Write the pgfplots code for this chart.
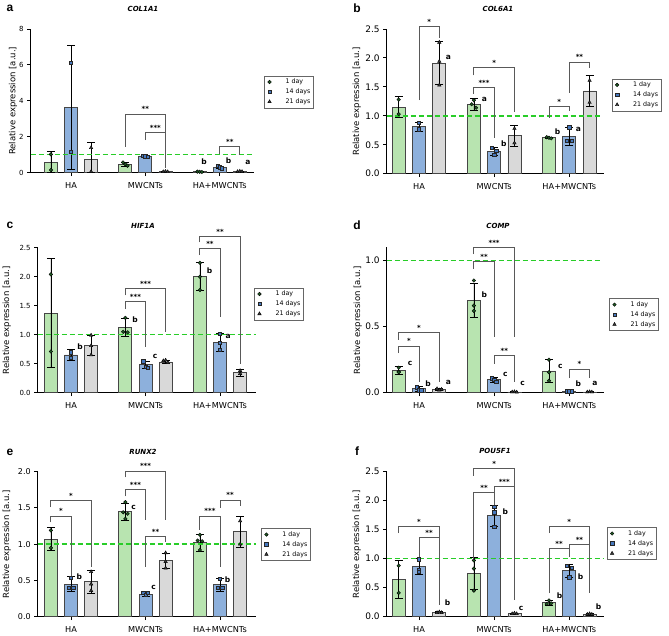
\documentclass[border=0pt]{standalone}
\usepackage{pgfplots}
\pgfplotsset{compat=1.18}
\usepackage{fontspec}
\setmainfont{DejaVu Sans}
\newfontfamily\arialf{Liberation Sans}
\usetikzlibrary{calc}
\definecolor{barG}{RGB}{184,228,176}
\definecolor{barB}{RGB}{141,176,220}
\definecolor{barY}{RGB}{217,217,217}
\definecolor{edgeC}{RGB}{70,70,70}
\definecolor{dashG}{RGB}{40,205,40}
\definecolor{mG}{RGB}{30,90,35}
\definecolor{mB}{RGB}{70,120,190}
\definecolor{mY}{RGB}{60,60,60}
\tikzset{
 brk/.style={draw=black!65, line width=0.8pt},
 sig/.style={font=\bfseries\fontsize{7}{8}\selectfont, inner sep=0pt, anchor=base, yshift=2pt},
 lt/.style={font=\bfseries\fontsize{7.5}{8}\selectfont, inner sep=0pt},
 gl/.style={draw=dashG, line width=1.4pt, dash pattern=on 5pt off 3pt},
}
\newcommand{\brk}[6]{\draw[brk] (axis cs:#1,#2) -- (axis cs:#1,#5) -- (axis cs:#3,#5) -- (axis cs:#3,#4);
 \node[sig] at ($(axis cs:#1,#5)!0.5!(axis cs:#3,#5)$) {#6};}
\newcommand{\lt}[3]{\node[lt] at (axis cs:#1,#2) {#3};}
\pgfplotsset{
 panel/.style={scale only axis, clip mode=individual,
  axis x line*=bottom, axis y line*=left,
  axis line style={line width=1pt,black},
  tick align=outside, major tick length=3.5pt,
  tick style={black,line width=0.9pt},
  xtick={0,1,2}, xticklabels={HA,MWCNTs,HA+MWCNTs}, ymin=0,
  x tick label style={font=\fontsize{8.2}{9}\selectfont, yshift=-3pt},
  ylabel={Relative expression [a.u.]},
  ylabel style={font=\fontsize{8.5}{10}\selectfont},
  /pgf/number format/assume math mode=true,
  legend cell align=left,
  legend style={draw=black!60, line width=0.5pt, anchor=north west,
    font=\fontsize{6.3}{7}\selectfont, inner xsep=2pt, inner ysep=2pt, row sep=1.8pt,
    nodes={inner sep=0.8pt, text height=5pt, text depth=1.5pt}},
  legend image code/.code={\path (0pt,-2pt) (18pt,2pt); \draw[#1] plot coordinates {(3pt,0pt)};},
 },
 onedec/.style={yticklabel style={/pgf/number format/fixed, /pgf/number format/fixed zerofill, /pgf/number format/precision=1}},
 ebar/.style={error bars/.cd, y dir=both, y explicit, error bar style={black,line width=0.7pt}, error mark options={rotate=90, mark size=4pt, black, line width=0.7pt}},
 bG/.style={ybar, bar width=13pt, bar shift=0pt, fill=barG, draw=edgeC, line width=0.8pt, forget plot, ebar},
 bB/.style={ybar, bar width=13pt, bar shift=0pt, fill=barB, draw=edgeC, line width=0.8pt, forget plot, ebar},
 bY/.style={ybar, bar width=13pt, bar shift=0pt, fill=barY, draw=edgeC, line width=0.8pt, forget plot, ebar},
 pG/.style={only marks, mark=*, mark size=1.8pt, mark options={fill=mG, draw=black, line width=0.4pt}},
 pB/.style={only marks, mark=square*, mark size=1.7pt, mark options={fill=mB, draw=black!85, line width=0.5pt}},
 pY/.style={only marks, mark=triangle*, mark size=2pt, mark options={fill=mY, draw=black, line width=0.4pt}},
}
\begin{document}
\begin{tikzpicture}
\path[use as bounding box] (0,0) rectangle (669pt,636pt);
% panel letters and titles
\node[font=\arialf\bfseries\fontsize{12}{12}\selectfont] at (10pt,628pt) {a};
\node[font=\arialf\bfseries\fontsize{12}{12}\selectfont] at (357pt,628pt) {b};
\node[font=\arialf\bfseries\fontsize{12}{12}\selectfont] at (10pt,411pt) {c};
\node[font=\arialf\bfseries\fontsize{12}{12}\selectfont] at (357pt,411pt) {d};
\node[font=\arialf\bfseries\fontsize{12}{12}\selectfont] at (10pt,184pt) {e};
\node[font=\arialf\bfseries\fontsize{12}{12}\selectfont] at (357pt,185pt) {f};
\node[font=\bfseries\itshape\fontsize{7}{8}\selectfont] at (143pt,627pt) {COL1A1};
\node[font=\bfseries\itshape\fontsize{7}{8}\selectfont] at (498pt,627pt) {COL6A1};
\node[font=\bfseries\itshape\fontsize{7}{8}\selectfont] at (143pt,410pt) {HIF1A};
\node[font=\bfseries\itshape\fontsize{7}{8}\selectfont] at (498pt,410pt) {COMP};
\node[font=\bfseries\itshape\fontsize{7}{8}\selectfont] at (143pt,184pt) {RUNX2};
\node[font=\bfseries\itshape\fontsize{7}{8}\selectfont] at (495pt,185pt) {POU5F1};

% ---------------- a: COL1A1
\begin{axis}[panel, at={(30.7pt,463.3pt)}, anchor=south west, width=223.3pt, height=143.7pt,
 xmin=-0.542, xmax=2.461, ymax=8, ytick={0,2,4,6,8},
 y tick label style={font=\fontsize{7}{8}\selectfont},
 ylabel style={at={(axis description cs:-0.079,0.5)}, anchor=center},
 legend style={at={(1.045,0.675)}}]
\addplot[bG] coordinates {(-0.27,0.58) += (0,0.6) -= (0,0.58) (0.73,0.48) +- (0,0.1) (1.73,0.05) +- (0,0.02)};
\addplot[bB] coordinates {(0,3.64) +- (0,3.46) (1,0.93) +- (0,0.05) (2,0.30) +- (0,0.08)};
\addplot[bY] coordinates {(0.27,0.74) += (0,0.93) -= (0,0.74) (1.27,0.06) +- (0,0.02) (2.27,0.07) +- (0,0.02)};
\draw[gl] (axis cs:-0.542,1) -- (axis cs:2.461,1);
\addplot[pG] coordinates {(-0.27,1.02) (-0.27,0.15) (0.70,0.57) (0.73,0.47) (0.76,0.39) (1.70,0.06) (1.73,0.05) (1.76,0.04)};
\addplot[pB] coordinates {(0,6.12) (0,1.17) (0.97,0.95) (1,0.92) (1.03,0.90) (1.97,0.38) (2,0.30) (2.03,0.25)};
\addplot[pY] coordinates {(0.27,1.39) (0.27,0.06) (1.24,0.05) (1.27,0.07) (1.30,0.05) (2.24,0.06) (2.27,0.08) (2.30,0.06)};
\legend{1 day,14 days,21 days}
\brk{0.73}{1.45}{1.27}{0.24}{3.27}{**}
\brk{1}{1.82}{1.27}{1.08}{2.23}{***}
\brk{2}{1.04}{2.27}{0.98}{1.45}{**}
\lt{1.79}{0.6}{b}\lt{2.12}{0.65}{b}\lt{2.38}{0.56}{a}
\end{axis}

% ---------------- b: COL6A1
\begin{axis}[panel, onedec, at={(386.7pt,462.3pt)}, anchor=south west, width=217.3pt, height=144.7pt,
 xmin=-0.43, xmax=2.462, ymax=2.5, ytick={0,0.5,1,1.5,2,2.5},
 y tick label style={font=\fontsize{9}{10}\selectfont},
 ylabel style={at={(axis description cs:-0.138,0.5)}, anchor=center},
 legend style={at={(1.035,0.657)}}]
\addplot[bG] coordinates {(-0.27,1.15) +- (0,0.18) (0.73,1.20) +- (0,0.10) (1.73,0.62) +- (0,0.01)};
\addplot[bB] coordinates {(0,0.81) +- (0,0.08) (1,0.38) +- (0,0.07) (2,0.645) +- (0,0.16)};
\addplot[bY] coordinates {(0.27,1.91) +- (0,0.37) (1.27,0.66) +- (0,0.18) (2.27,1.43) +- (0,0.27)};
\draw[gl] (axis cs:-0.43,1) -- (axis cs:2.41,1);
\addplot[pG] coordinates {(-0.27,1.28) (-0.27,1.03) (0.73,1.27) (0.70,1.20) (0.76,1.14) (1.70,0.63) (1.73,0.62) (1.76,0.61)};
\addplot[pB] coordinates {(0,0.88) (0,0.77) (0.97,0.45) (1.03,0.40) (1,0.33) (2,0.80) (1.97,0.57) (2.03,0.57)};
\addplot[pY] coordinates {(0.27,2.27) (0.27,1.94) (0.27,1.53) (1.27,0.78) (1.27,0.53) (2.27,1.61) (2.27,1.23)};
\legend{1 day,14 days,21 days}
\brk{0}{1.27}{0.27}{2.35}{2.55}{*}
\brk{0.73}{1.70}{1.27}{1.07}{1.84}{*}
\brk{0.73}{1.38}{1}{0.61}{1.49}{***}
\brk{1.73}{0.97}{2}{1.08}{1.16}{*}
\brk{2}{1.40}{2.27}{1.82}{1.93}{**}
\lt{0.39}{2.0}{a}\lt{0.87}{1.28}{a}\lt{1.13}{0.51}{b}\lt{1.845}{0.73}{b}\lt{2.12}{0.77}{a}
\end{axis}

% ---------------- c: HIF1A
\begin{axis}[panel, onedec, at={(37.7pt,243.3pt)}, anchor=south west, width=218pt, height=145pt,
 xmin=-0.447, xmax=2.479, ymax=2.5, ytick={0,0.5,1,1.5,2,2.5},
 y tick label style={font=\fontsize{7}{8}\selectfont},
 ylabel style={at={(axis description cs:-0.142,0.5)}, anchor=center},
 legend style={at={(0.992,0.724)}}]
\addplot[bG] coordinates {(-0.27,1.37) +- (0,0.94) (0.73,1.13) +- (0,0.15) (1.73,2.0) +- (0,0.24)};
\addplot[bB] coordinates {(0,0.65) +- (0,0.10) (1,0.48) +- (0,0.06) (2,0.87) +- (0,0.15)};
\addplot[bY] coordinates {(0.27,0.82) +- (0,0.17) (1.27,0.53) +- (0,0.03) (2.27,0.35) +- (0,0.06)};
\draw[gl] (axis cs:-0.447,1) -- (axis cs:2.479,1);
\addplot[pG] coordinates {(-0.27,2.04) (-0.27,0.71) (0.73,1.29) (0.70,1.05) (0.76,1.04) (1.73,2.24) (1.73,2.0) (1.73,1.77)};
\addplot[pB] coordinates {(0,0.70) (0,0.60) (0.97,0.54) (1,0.45) (1.03,0.43) (2,1.02) (2,0.86) (2,0.74)};
\addplot[pY] coordinates {(0.27,0.99) (0.27,0.81) (0.27,0.65) (1.24,0.55) (1.27,0.56) (1.30,0.52) (2.27,0.38) (2.27,0.33)};
\legend{1 day,14 days,21 days}
\brk{0.73}{1.44}{1}{0.79}{1.57}{***}
\brk{0.73}{1.68}{1.27}{1.05}{1.80}{***}
\brk{1.73}{2.37}{2}{1.31}{2.48}{**}
\brk{1.73}{2.59}{2.27}{0.50}{2.70}{**}
\lt{0.12}{0.79}{b}\lt{0.86}{1.25}{b}\lt{1.13}{0.63}{c}\lt{1.86}{2.1}{b}\lt{2.11}{0.97}{a}
\end{axis}

% ---------------- d: COMP
\begin{axis}[panel, onedec, at={(386.7pt,243.3pt)}, anchor=south west, width=217.3pt, height=145.2pt,
 xmin=-0.43, xmax=2.462, ymax=1.1, ytick={0,0.5,1},
 y tick label style={font=\fontsize{9}{10}\selectfont},
 ylabel style={at={(axis description cs:-0.133,0.5)}, anchor=center},
 legend style={at={(1.023,0.650)}}]
\addplot[bG] coordinates {(-0.27,0.17) +- (0,0.03) (0.73,0.70) +- (0,0.13) (1.73,0.165) +- (0,0.085)};
\addplot[bB] coordinates {(0,0.03) +- (0,0.02) (1,0.10) +- (0,0.02) (2,0.01) +- (0,0.003)};
\addplot[bY] coordinates {(0.27,0.025) +- (0,0.008) (1.27,0.006) +- (0,0.002) (2.27,0.006) +- (0,0.002)};
\draw[gl] (axis cs:-0.43,1) -- (axis cs:2.41,1);
\addplot[pG] coordinates {(-0.27,0.19) (-0.27,0.16) (-0.27,0.155) (0.73,0.85) (0.73,0.66) (0.73,0.62) (1.73,0.25) (1.73,0.155) (1.73,0.09)};
\addplot[pB] coordinates {(-0.03,0.04) (0,0.02) (0.03,0.02) (0.97,0.11) (1,0.10) (1.03,0.085) (1.97,0.012) (2,0.01) (2.03,0.012)};
\addplot[pY] coordinates {(0.24,0.03) (0.27,0.02) (0.30,0.025) (1.24,0.005) (1.27,0.007) (1.30,0.004) (2.24,0.005) (2.27,0.007) (2.30,0.005)};
\legend{1 day,14 days,21 days}
\brk{-0.27}{0.30}{0}{0.08}{0.354}{*}
\brk{-0.27}{0.40}{0.27}{0.08}{0.455}{*}
\brk{0.73}{0.94}{1}{0.42}{0.997}{**}
\brk{0.73}{1.05}{1.27}{0.42}{1.10}{***}
\brk{1}{0.22}{1.27}{0.08}{0.28}{**}
\brk{2}{0.11}{2.27}{0.11}{0.18}{*}
\lt{-0.12}{0.22}{c}\lt{0.12}{0.07}{b}\lt{0.39}{0.08}{a}\lt{0.87}{0.74}{b}\lt{1.15}{0.14}{c}\lt{1.38}{0.07}{c}\lt{1.88}{0.2}{c}\lt{2.12}{0.07}{b}\lt{2.34}{0.07}{a}
\end{axis}

% ---------------- e: RUNX2
\begin{axis}[panel, onedec, at={(37.7pt,19.3pt)}, anchor=south west, width=218pt, height=145pt,
 xmin=-0.447, xmax=2.479, ymax=2.0, ytick={0,0.5,1,1.5,2},
 y tick label style={font=\fontsize{8}{9}\selectfont},
 ylabel style={at={(axis description cs:-0.142,0.5)}, anchor=center},
 legend style={at={(1.024,0.61)}}]
\addplot[bG] coordinates {(-0.27,1.07) +- (0,0.16) (0.73,1.45) +- (0,0.12) (1.73,1.02) +- (0,0.12)};
\addplot[bB] coordinates {(0,0.45) +- (0,0.10) (1,0.31) +- (0,0.03) (2,0.44) +- (0,0.09)};
\addplot[bY] coordinates {(0.27,0.48) +- (0,0.16) (1.27,0.77) +- (0,0.11) (2.27,1.17) +- (0,0.21)};
\draw[gl] (axis cs:-0.447,1) -- (axis cs:2.479,1);
\addplot[pG] coordinates {(-0.27,1.19) (-0.27,0.95) (0.73,1.58) (0.70,1.44) (0.76,1.42) (0.73,1.35) (1.73,1.13) (1.70,1.05) (1.76,1.04) (1.73,0.92)};
\addplot[pB] coordinates {(0,0.54) (-0.03,0.40) (0.03,0.40) (0.97,0.33) (1,0.30) (1.03,0.33) (2,0.52) (1.97,0.40) (2.03,0.40)};
\addplot[pY] coordinates {(0.27,0.62) (0.27,0.45) (0.27,0.36) (1.27,0.88) (1.27,0.76) (1.27,0.67) (2.27,1.32) (2.27,1.0)};
\legend{1 day,14 days,21 days}
\brk{-0.27}{1.30}{0}{0.56}{1.39}{*}
\brk{-0.27}{1.51}{0.27}{0.69}{1.60}{*}
\brk{0.73}{1.66}{1}{1.33}{1.75}{***}
\brk{0.73}{1.92}{1.27}{1.33}{2.01}{***}
\brk{1}{0.69}{1.27}{1.03}{1.11}{**}
\brk{1.73}{1.20}{2}{0.69}{1.39}{***}
\brk{2}{1.50}{2.27}{1.52}{1.61}{**}
\lt{0.11}{0.55}{b}\lt{0.84}{1.51}{c}\lt{1.11}{0.41}{c}\lt{2.1}{0.51}{b}
\end{axis}

% ---------------- f: POU5F1
\begin{axis}[panel, onedec, at={(386.7pt,19.3pt)}, anchor=south west, width=217.3pt, height=145pt,
 xmin=-0.43, xmax=2.462, ymax=2.5, ytick={0,0.5,1,1.5,2,2.5},
 y tick label style={font=\fontsize{9}{10}\selectfont},
 ylabel style={at={(axis description cs:-0.138,0.5)}, anchor=center},
 legend style={at={(1.012,0.617)}}]
\addplot[bG] coordinates {(-0.27,0.64) +- (0,0.33) (0.73,0.75) +- (0,0.27) (1.73,0.24) +- (0,0.05)};
\addplot[bB] coordinates {(0,0.87) +- (0,0.14) (1,1.74) +- (0,0.18) (2,0.79) +- (0,0.12)};
\addplot[bY] coordinates {(0.27,0.08) +- (0,0.01) (1.27,0.05) +- (0,0.01) (2.27,0.04) +- (0,0.01)};
\draw[gl] (axis cs:-0.43,1) -- (axis cs:2.462,1);
\addplot[pG] coordinates {(-0.27,0.88) (-0.27,0.41) (0.73,0.97) (0.73,0.83) (0.73,0.45) (1.73,0.28) (1.70,0.22) (1.76,0.23)};
\addplot[pB] coordinates {(0,0.99) (0,0.80) (0,0.77) (1,1.90) (1,1.80) (1,1.55) (1.97,0.88) (2.03,0.84) (2,0.68)};
\addplot[pY] coordinates {(0.24,0.07) (0.27,0.08) (0.30,0.07) (1.24,0.05) (1.27,0.06) (1.30,0.05) (2.24,0.04) (2.27,0.05) (2.30,0.04)};
\legend{1 day,14 days,21 days}
\brk{-0.27}{1.44}{0.27}{0.20}{1.56}{*}
\brk{0}{1.03}{0.27}{0.34}{1.36}{**}
\brk{0.73}{2.43}{1.27}{0.32}{2.56}{*}
\brk{0.73}{1.00}{1}{1.93}{2.14}{**}
\brk{1}{2.14}{1.27}{0.29}{2.24}{***}
\brk{1.73}{1.44}{2.27}{0.40}{1.56}{*}
\brk{1.73}{0.40}{2}{1.03}{1.17}{**}
\brk{2}{1.15}{2.27}{0.40}{1.25}{**}
\lt{0.38}{0.24}{b}\lt{1.15}{1.81}{b}\lt{1.36}{0.15}{c}\lt{1.87}{0.37}{b}\lt{2.15}{0.69}{b}\lt{2.39}{0.17}{b}
\end{axis}
\end{tikzpicture}
\end{document}
